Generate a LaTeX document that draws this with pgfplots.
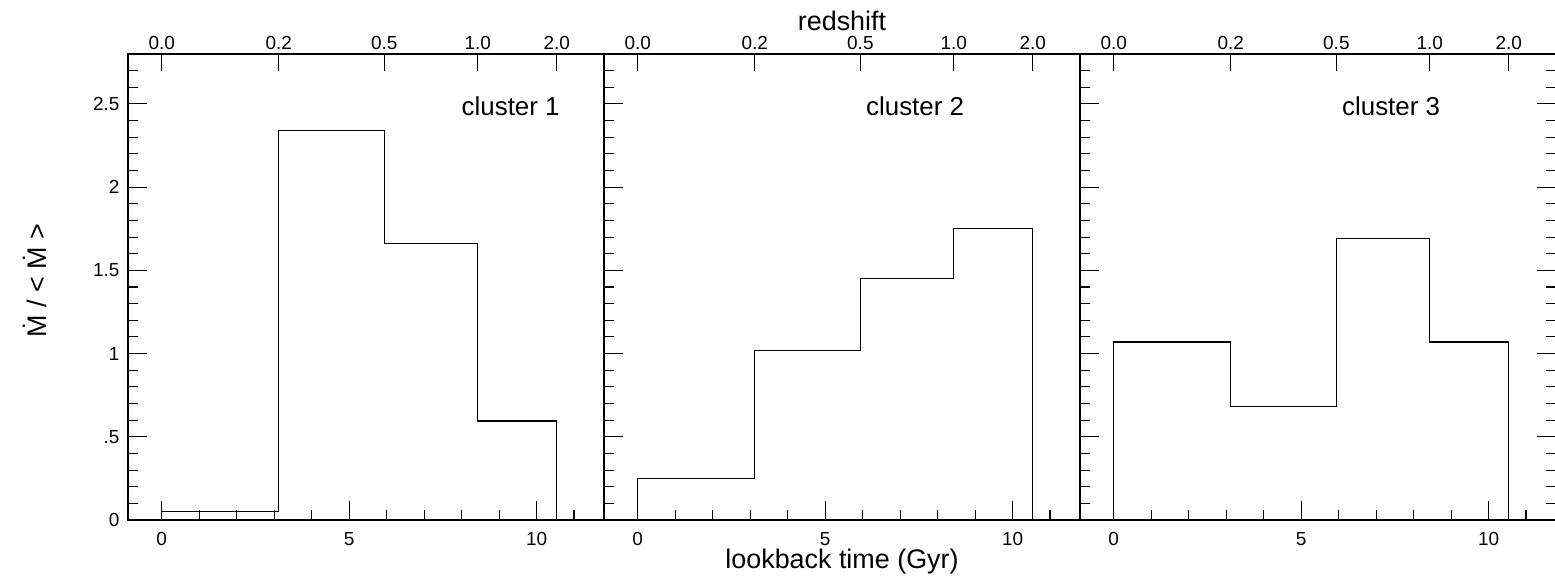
\documentclass[border=0pt]{standalone}
\usepackage{fontspec}
\setmainfont{Liberation Sans}
\usepackage{pgfplots}
\pgfplotsset{compat=1.18}
\tikzset{clab/.style={anchor=base east, font=\fontsize{26}{28}\selectfont}}
\begin{document}
\begin{tikzpicture}
\useasboundingbox (-128bp,-62bp) rectangle (1427bp,520bp);
\pgfplotsset{
  common/.style={
    scale only axis, width=476bp, height=466bp,
    xmin=-0.9, xmax=11.8, ymin=0, ymax=2.8,
    axis line style={line width=1.3bp, -},
    every tick/.style={black, line width=1.1bp},
    tick align=inside,
    every tick label/.append style={font=\fontsize{19}{21}\selectfont},
    /pgf/number format/assume math mode=true,
    clip=false,
  },
  panel/.style={
    common,
    major tick length=19bp, minor tick length=10bp,
    xtick={0,5,10}, minor xtick={1,2,3,4,6,7,8,9,11},
    xtick pos=bottom,
    xticklabel style={yshift=-9bp},
    ytick={0,0.5,1,1.5,2,2.5},
    minor ytick={0.1,0.2,0.3,0.4,0.6,0.7,0.8,0.9,1.1,1.2,1.3,1.4,1.6,1.7,1.8,1.9,2.1,2.2,2.3,2.4,2.6,2.7},
    yticklabel style={xshift=-5bp},
    label style={font=\fontsize{27}{30}\selectfont},
  },
  toppanel/.style={
    common,
    axis x line*=top, axis y line=none,
    xtick={0,3.12,5.94,8.43,10.54},
    xticklabels={0.0,0.2,0.5,1.0,2.0},
    minor xtick={}, ytick=\empty,
    major tick length=17bp,
    xticklabel style={yshift=1bp},
    label style={font=\fontsize{27}{30}\selectfont},
  },
  hist/.style={const plot, black, line width=1.3bp, mark=none},
}
% ---------- panel 1 ----------
\begin{axis}[panel, at={(0bp,0bp)}, ytick pos=left,
  yticklabels={0,.5,1,1.5,2,2.5},
  ylabel={Ṁ / < Ṁ >},
  ylabel style={at={(axis description cs:-0.195,0.513)}, anchor=center}]
\addplot[hist] coordinates {(0,0) (0,0.05) (3.12,2.34) (5.94,1.66) (8.43,0.595) (10.54,0)};
\node[clab] at (axis cs:10.71,2.43) {cluster 1};
\end{axis}
\begin{axis}[toppanel, at={(0bp,0bp)}]
\end{axis}
% ---------- panel 2 ----------
\begin{axis}[panel, at={(476bp,0bp)}, ytick pos=left, yticklabels={},
  xlabel={lookback time (Gyr)},
  xlabel style={at={(axis description cs:0.5,0)}, anchor=base, yshift=-48bp}]
\addplot[hist] coordinates {(0,0) (0,0.25) (3.12,1.02) (5.94,1.45) (8.43,1.75) (10.54,0)};
\node[clab] at (axis cs:8.80,2.43) {cluster 2};
\end{axis}
\begin{axis}[toppanel, at={(476bp,0bp)},
  xlabel={redshift},
  xlabel style={at={(axis description cs:0.5,1)}, anchor=base, yshift=23bp}]
\end{axis}
% ---------- panel 3 ----------
\begin{axis}[panel, at={(952bp,0bp)}, ytick pos=both, yticklabels={}]
\addplot[hist] coordinates {(0,0) (0,1.07) (3.12,0.68) (5.94,1.69) (8.43,1.07) (10.54,0)};
\node[clab] at (axis cs:8.80,2.43) {cluster 3};
\end{axis}
\begin{axis}[toppanel, at={(952bp,0bp)}]
\end{axis}
\end{tikzpicture}
\end{document}
